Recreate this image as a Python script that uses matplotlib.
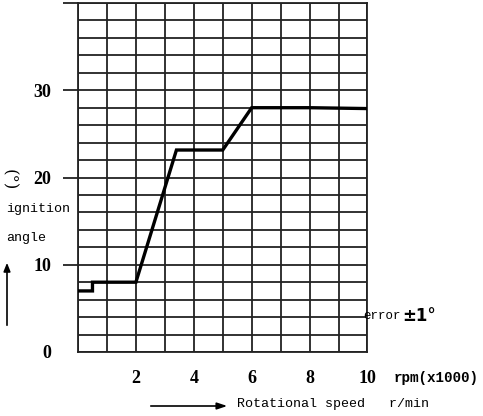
"""Ignition angle vs rotational speed curve (advance curve on a grid sheet)."""
import matplotlib

matplotlib.use("Agg")
import matplotlib.pyplot as plt
import numpy as np

# %% Data
rpm_k = [0, 0.5, 0.5, 2, 3.4, 5, 6, 8, 10]          # rpm x1000
angle = [7, 7, 8, 8, 23.15, 23.15, 28, 28, 27.9]     # ignition angle (deg)
x_tick_vals = [2, 4, 6, 8, 10]
y_tick_vals = [0, 10, 20, 30, 40]
y_tick_text = ["0", "10", "20", "30", ""]

W, H = 483, 416
MONO = "Liberation Mono"
NUM = dict(family="Liberation Serif", weight="bold", size=13)

# %% Figure
fig = plt.figure(figsize=(W / 100, H / 100), dpi=100)
ax = fig.add_axes([78 / W, (H - 352) / H, (367.5 - 78) / W, (352 - 3) / H])

ax.set_xlim(0, 10)
ax.set_ylim(0, 40)
ax.set_xticks(x_tick_vals)
ax.set_xticklabels([str(v) for v in x_tick_vals], fontdict=NUM)
ax.set_xticks(np.arange(0, 11, 1), minor=True)
ax.set_yticks(y_tick_vals)
ax.set_yticklabels(y_tick_text, fontdict=NUM)
ax.set_yticks(np.arange(0, 41, 2), minor=True)
ax.grid(True, which="both", color="#222222", lw=1.3)
ax.set_axisbelow(True)
ax.tick_params(axis="x", which="both", length=0, pad=13)
ax.tick_params(axis="y", which="major", length=11, width=1.3, color="#222222", pad=8)
ax.tick_params(axis="y", which="minor", length=0)
ax.yaxis.get_major_ticks()[0].tick1line.set_visible(False)
for s in ax.spines.values():
    s.set_color("#222222")
    s.set_linewidth(1.3)

ax.plot(rpm_k, angle, color="black", lw=2.4, solid_joinstyle="miter", zorder=3)

# %% Annotations (figure pixel coordinates)
def fx(px):
    return px / W

def fy(py):
    return 1 - py / H

fig.text(fx(9), fy(180), "(°)", rotation=-90, ha="center", va="center", fontsize=12, family="DejaVu Serif")
fig.text(fx(6), fy(209), "ignition", ha="left", va="center", fontsize=9.6, family=MONO)
fig.text(fx(6), fy(238), "angle", ha="left", va="center", fontsize=9.6, family=MONO)
fig.text(fx(363), fy(316), "error", ha="left", va="center", fontsize=9, family=MONO)
fig.text(fx(402), fy(316), "±1°", ha="left", va="center", fontsize=12, family="DejaVu Sans", weight="bold")
fig.text(fx(394), fy(378), "rpm(x1000)", ha="left", va="center", fontsize=10.3, family=MONO, weight="bold")
fig.text(fx(237), fy(404), "Rotational speed   r/min", ha="left", va="center", fontsize=9.6, family=MONO)

fig.add_artist(matplotlib.patches.FancyArrowPatch(
    (fx(7), fy(328)), (fx(7), fy(260)), transform=fig.transFigure,
    arrowstyle="-|>,head_length=5,head_width=2", color="black", lw=1.2))
fig.add_artist(matplotlib.patches.FancyArrowPatch(
    (fx(148), fy(406)), (fx(230), fy(406)), transform=fig.transFigure,
    arrowstyle="-|>,head_length=6,head_width=2", color="black", lw=1.2))

fig.savefig("out.png", dpi=100)
